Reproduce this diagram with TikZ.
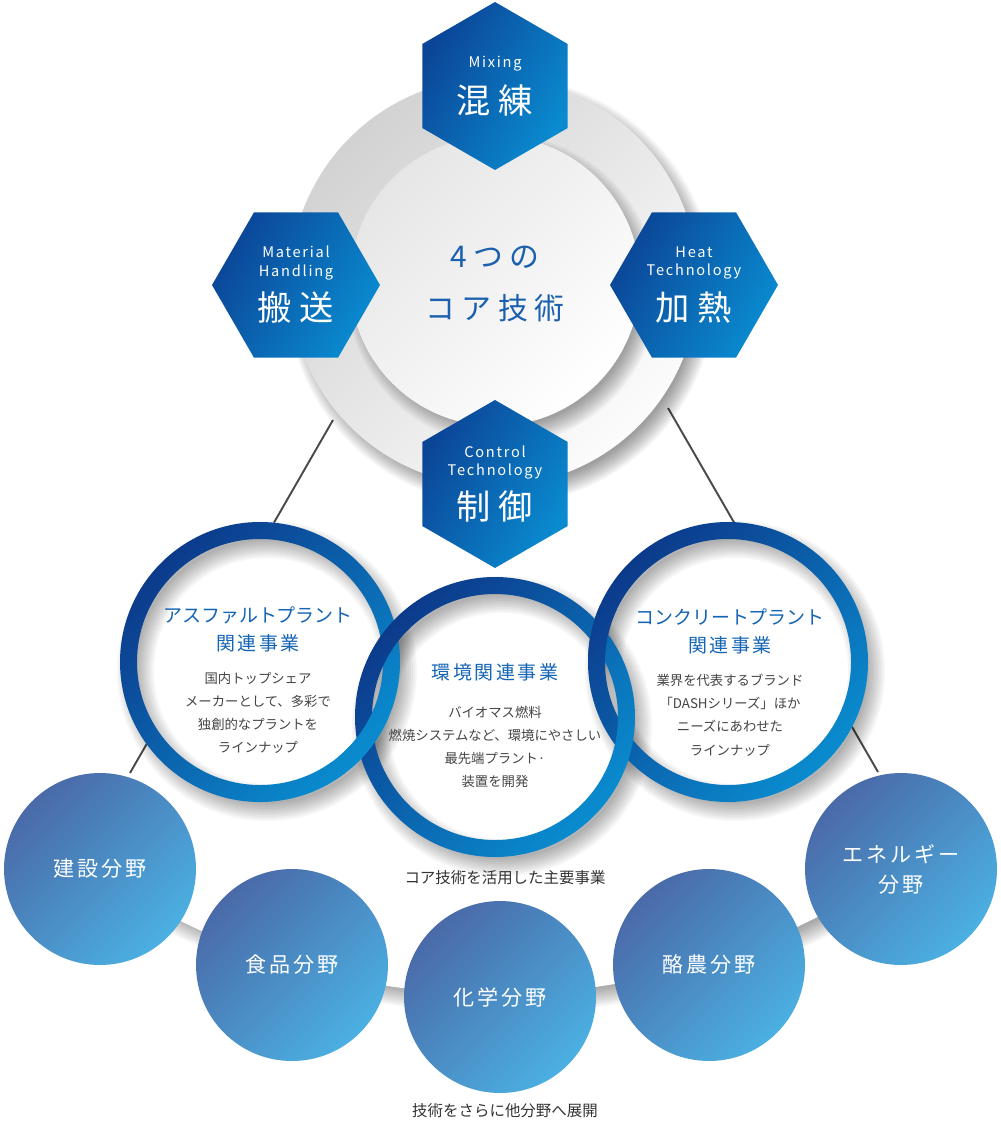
\documentclass[tikz,border=0pt]{standalone}
\usepackage{fontspec}
\setmainfont{Noto Sans CJK JP}
\newfontfamily\jpwide[LetterSpace=22]{Noto Sans CJK JP}
\newfontfamily\jpmid[LetterSpace=14]{Noto Sans CJK JP}
\newfontfamily\enwide[LetterSpace=12]{Noto Sans CJK JP}
\usetikzlibrary{shapes.geometric}
\definecolor{hexdark}{HTML}{0B4597}
\definecolor{hexlight}{HTML}{0A8BD0}
\definecolor{ringdark}{HTML}{0C3A8B}
\definecolor{ringlight}{HTML}{0A8CCF}
\definecolor{coreblue}{HTML}{1A60AF}
\definecolor{bizblue}{HTML}{1565B5}
\definecolor{desctext}{HTML}{444444}
\definecolor{capgrey}{HTML}{333333}
\definecolor{fielddark}{HTML}{4A6AA8}
\definecolor{fieldlight}{HTML}{4BB0E2}
\definecolor{discA}{HTML}{D2D2D2}
\definecolor{discB}{HTML}{FCFCFC}
\definecolor{discC}{HTML}{E6E6E6}
\definecolor{linegrey}{HTML}{4A4A4A}
\newcommand{\hexenfont}{\enwide\fontsize{8.3}{10.3}\selectfont}
\newcommand{\hexjpfont}{\jpwide\fontsize{19.5}{22}\selectfont}
\newcommand{\corefont}{\jpwide\fontsize{17}{30}\selectfont}
\newcommand{\biztitlefont}{\fontsize{10.8}{16}\selectfont}
\newcommand{\bizdescfont}{\fontsize{7.6}{13.2}\selectfont}
\newcommand{\fieldfont}{\jpmid\fontsize{12}{17}\selectfont}
\newcommand{\captionfont}{\fontsize{8.8}{11}\selectfont}
% soft shadow: x, y, outer radius, inner radius, opacity
\newcommand{\softshadow}[5]{%
  \foreach \s in {-4,...,5}
    \fill[black, opacity=#5, even odd rule]
      (#1+7,#2+9) circle ({#3+2*\s}) (#1+7,#2+9) circle ({max(0,#4-2*\s)});
}

\begin{document}
\begin{tikzpicture}[x=0.02cm, y=-0.02cm]
  \tikzset{
    hexcell/.style={regular polygon, regular polygon sides=6, minimum size=3.36cm, inner sep=0pt,
      top color=hexdark, bottom color=hexlight, shading angle=60, text=white, align=center, font=\hexenfont},
    hexup/.style={hexcell, shape border rotate=30},
    disc/.style={circle, minimum size=#1, inner sep=0pt, draw=none},
    bizdisc/.style={circle, minimum size=5.6cm, inner sep=0pt, fill=white},
    band/.style={even odd rule, top color=ringdark, bottom color=ringlight, shading angle=45},
    field/.style={circle, minimum size=3.84cm, inner sep=0pt, top color=fielddark, bottom color=fieldlight,
      shading angle=45, text=white, align=center, font=\fieldfont},
    biztitle/.style={text=bizblue, align=center, font=\biztitlefont},
    bizdesc/.style={text=desctext, align=center, font=\bizdescfont},
    capt/.style={text=capgrey, font=\captionfont},
    link/.style={draw=linegrey, line width=1.1pt},
  }
  \useasboundingbox (0,0) rectangle (1000,1121);

  % backdrop behind the fields
  \coordinate (hub) at (495,282);
  \begin{scope}
    \clip (100,600) rectangle (900,1121);
    \softshadow{495}{282}{712}{0}{0.04}
  \end{scope}
  \fill[white] (hub) circle (712);

  % links
  \coordinate (la1) at (333,420);
  \coordinate (la2) at (130,773);
  \coordinate (lb1) at (668,408);
  \coordinate (lb2) at (878,772);
  \draw[link] (la1) -- (la2);
  \draw[link] (lb1) -- (lb2);

  % core discs
  \softshadow{494}{282}{204}{0}{0.045}
  \node[disc=8.16cm, top color=discA, bottom color=discB, shading angle=45] (core) at (494,282) {};
  \softshadow{495}{281}{145}{0}{0.04}
  \node[disc=5.8cm, top color=discC, bottom color=white, shading angle=45] (inner) at (495,281) {};

  % business rings
  \node[bizdisc] (asph) at (260,662) {};
  \node[bizdisc] (conc) at (728,662) {};
  \node[bizdisc] (env) at (495,717) {};
  \softshadow{260}{662}{140}{123}{0.035}
  \softshadow{728}{662}{140}{123}{0.035}
  \softshadow{495}{717}{140}{123}{0.035}
  \shade[band] (asph.center) circle (140) (asph.center) circle (123);
  \shade[band] (conc.center) circle (140) (conc.center) circle (123);
  \shade[band] (env.center) circle (140) (env.center) circle (123);
  \begin{scope}
    \clip (366,740) circle (32);
    \shade[band] (asph.center) circle (140) (asph.center) circle (123);
  \end{scope}
  \begin{scope}
    \clip (599,637) circle (32);
    \shade[band] (conc.center) circle (140) (conc.center) circle (123);
  \end{scope}

  % hexagons
  \node[hexup] (mix) at (495,86) {Mixing\\[7pt]{\hexjpfont 混練}};
  \node[hexcell] (convey) at (296,285) {Material\\Handling\\[6pt]{\hexjpfont 搬送}};
  \node[hexcell] (heat) at (694,285) {Heat\\Technology\\[6pt]{\hexjpfont 加熱}};
  \node[hexup] (ctrl) at (495,484) {Control\\Technology\\[6pt]{\hexjpfont 制御}};
  \node[text=coreblue, align=center, font=\corefont] (coretxt) at (495,284) {4つの\\コア技術};

  % texts of the rings
  \node[biztitle] (asphT) at (258,629) {アスファルトプラント\\{\jpmid 関連事業}};
  \node[bizdesc] (asphD) at (258,713) {国内トップシェア\\メーカーとして、多彩で\\独創的なプラントを\\ラインナップ};
  \node[biztitle] (envT) at (495,672) {\jpmid 環境関連事業};
  \node[bizdesc] (envD) at (495,747) {バイオマス燃料\\燃焼システムなど、環境にやさしい\\最先端プラント·\\装置を開発};
  \node[biztitle] (concT) at (730,631) {コンクリートプラント\\{\jpmid 関連事業}};
  \node[bizdesc] (concD) at (730,715) {業界を代表するブランド\\「DASHシリーズ」ほか\\ニーズにあわせた\\ラインナップ};

  % fields
  \node[field] (build) at (100,869) {建設分野};
  \node[field] (food) at (292,965) {食品分野};
  \node[field] (chem) at (500,997) {化学分野};
  \node[field] (dairy) at (709,965) {酪農分野};
  \node[field] (energy) at (901,869) {エネルギー\\分野};

  \node[capt] (bizcap) at (505,878) {コア技術を活用した主要事業};
  \node[capt] (fieldcap) at (505,1111) {技術をさらに他分野へ展開};
\end{tikzpicture}
\end{document}
